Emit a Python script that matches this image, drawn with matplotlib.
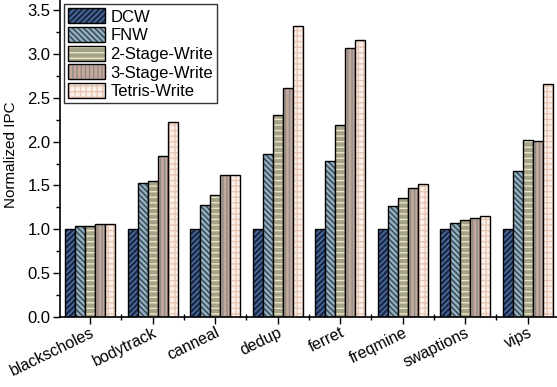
import matplotlib
matplotlib.use("Agg")
import matplotlib.pyplot as plt
import matplotlib.patches as mpatches
import matplotlib.transforms as mtransforms
from matplotlib.legend_handler import HandlerTuple
import numpy as np
from matplotlib.ticker import MultipleLocator

plt.rcParams['font.family'] = ['Liberation Sans', 'DejaVu Sans']
plt.rcParams['hatch.linewidth'] = 1.0

categories = ["blackscholes", "bodytrack", "canneal", "dedup", "ferret", "freqmine", "swaptions", "vips"]
series_names = ["DCW", "FNW", "2-Stage-Write", "3-Stage-Write", "Tetris-Write"]
dcw = [1.00, 1.00, 1.00, 1.00, 1.00, 1.00, 1.00, 1.00]
fnw = [1.04, 1.53, 1.28, 1.86, 1.78, 1.26, 1.07, 1.67]
two_stage = [1.04, 1.55, 1.39, 2.31, 2.19, 1.36, 1.10, 2.02]
three_stage = [1.06, 1.84, 1.62, 2.61, 3.07, 1.47, 1.13, 2.01]
tetris = [1.06, 2.23, 1.62, 3.32, 3.16, 1.52, 1.15, 2.66]
series = [dcw, fnw, two_stage, three_stage, tetris]

faces = ["#1e2a45", "#8fb0c2", "#a5a28a", "#c4a898", "#fcf1ea"]
hatch_colors = ["#4f77b0", "#3a4048", "#ece6c4", "#8c8c8c", "#e8c6b4"]
hatches = ["//////", "\\\\\\\\\\\\", "---", "||||", "+++"]

fig = plt.figure(figsize=(5.57, 3.87), dpi=100)
ax = fig.add_axes([0.108, 0.182, 0.892, 0.818])

x = np.arange(len(categories))
w = 0.16
for i, (vals, name) in enumerate(zip(series, series_names)):
    pos = x + (i - 2) * w
    ax.bar(pos, vals, w, color=faces[i], hatch=hatches[i], edgecolor=hatch_colors[i],
           linewidth=0)
    ax.bar(pos, vals, w, fill=False, edgecolor="black", linewidth=1.0)

ax.set_xlim(-0.48, 7.47)
ax.set_ylim(0, 3.62)
ax.yaxis.set_minor_locator(MultipleLocator(0.25))
ax.set_yticks(np.arange(0, 3.51, 0.5))
ax.set_yticklabels([f"{v:.1f}" for v in np.arange(0, 3.51, 0.5)])
ax.set_xticks(x)
ax.set_xticklabels(categories, rotation=26, ha="right", va="top", rotation_mode="anchor",
                   fontsize=11.5)
offset = mtransforms.ScaledTranslation(10 / 100, -14 / 100, fig.dpi_scale_trans)
for lab in ax.get_xticklabels():
    lab.set_transform(lab.get_transform() + offset)
ax.set_xticks(x[:-1] + 0.5, minor=True)
ax.tick_params(axis='y', labelsize=12, direction='out', length=5, width=1, pad=2)
ax.tick_params(axis='y', which='minor', length=3, width=1)
ax.tick_params(axis='x', which='major', direction='out', length=5, width=1, pad=1)
ax.tick_params(axis='x', which='minor', direction='inout', length=4, width=1)
ax.spines['top'].set_visible(False)
ax.spines['right'].set_visible(False)
ax.spines['left'].set_linewidth(1.2)
ax.spines['bottom'].set_linewidth(1.2)
ax.set_ylabel("Normalized IPC", fontsize=11, labelpad=4)
ax.yaxis.set_label_coords(-0.085, 0.51)

handles = []
for i, name in enumerate(series_names):
    h1 = mpatches.Patch(facecolor=faces[i], hatch=hatches[i], edgecolor=hatch_colors[i], linewidth=0)
    h2 = mpatches.Patch(fill=False, edgecolor="black", linewidth=1.0)
    handles.append((h1, h2))
leg = ax.legend(handles=handles, labels=series_names, loc="upper left", bbox_to_anchor=(0.0, 1.0),
                fontsize=12, frameon=True, fancybox=False, edgecolor="black",
                handlelength=2.2, handleheight=1.0, labelspacing=0.15, borderpad=0.25,
                handletextpad=0.3, borderaxespad=0.25,
                handler_map={tuple: HandlerTuple(ndivide=1, pad=0)})
leg.get_frame().set_linewidth(1.0)
fig.savefig("out.png", dpi=100)
